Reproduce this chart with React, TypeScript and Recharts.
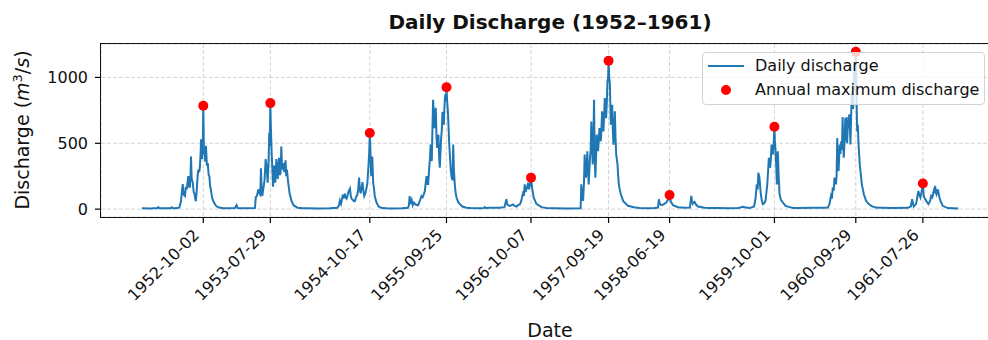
import React from "react";
import {
  ComposedChart,
  Line,
  Scatter,
  XAxis,
  YAxis,
  CartesianGrid,
} from "recharts";

type Pt = [string, number];

// daily discharge (month-day, m3/s)
const q1952: Pt[] = [
  ["01-01", 6], ["02-10", 5], ["03-10", 8], ["03-14", 15], ["03-20", 6], ["05-10", 6], ["05-14", 14], ["05-20", 7],
  ["06-10", 8], ["06-17", 12], ["06-24", 60], ["07-02", 190], ["07-06", 110], ["07-12", 100], ["07-16", 170],
  ["07-20", 150], ["07-24", 210], ["07-27", 250], ["07-31", 170], ["08-03", 170], ["08-06", 260], ["08-08", 400],
  ["08-11", 230], ["08-16", 200], ["08-20", 130], ["08-23", 120], ["08-27", 80], ["08-30", 60], ["09-03", 150],
  ["09-07", 260], ["09-10", 300], ["09-14", 280], ["09-17", 330], ["09-20", 420], ["09-22", 530], ["09-25", 400],
  ["09-27", 380], ["09-30", 520], ["10-02", 785], ["10-05", 420], ["10-08", 440], ["10-11", 360], ["10-14", 480],
  ["10-18", 330], ["10-22", 350], ["10-26", 260], ["10-29", 250], ["11-02", 170], ["11-05", 150], ["11-10", 90],
  ["11-16", 60], ["11-24", 35], ["12-01", 20], ["12-16", 10], ["12-31", 6],
];
const q1953: Pt[] = [
  ["01-14", 6], ["02-20", 8], ["02-28", 30], ["03-05", 8], ["03-15", 6], ["05-21", 8], ["05-25", 93], ["05-30", 100],
  ["06-05", 150], ["06-10", 120], ["06-14", 110], ["06-17", 310], ["06-20", 150], ["06-23", 100], ["06-28", 160],
  ["07-03", 220], ["07-08", 380], ["07-12", 330], ["07-17", 200], ["07-21", 350], ["07-24", 580], ["07-26", 480],
  ["07-29", 805], ["07-31", 640], ["08-04", 420], ["08-07", 300], ["08-10", 170], ["08-15", 330], ["08-20", 200],
  ["08-25", 380], ["08-31", 230], ["09-06", 390], ["09-10", 260], ["09-13", 280], ["09-16", 475], ["09-19", 330],
  ["09-22", 300], ["09-26", 350], ["09-29", 280], ["10-05", 370], ["10-08", 250], ["10-11", 300], ["10-17", 200],
  ["10-23", 120], ["11-01", 60], ["11-10", 30], ["11-28", 10], ["12-20", 6],
];
const q1954: Pt[] = [
  ["01-10", 6], ["03-01", 5], ["04-20", 6], ["05-25", 10], ["06-01", 30], ["06-05", 65], ["06-10", 40], ["06-14", 70],
  ["06-18", 110], ["06-22", 80], ["06-27", 118], ["07-01", 90], ["07-05", 80], ["07-09", 100], ["07-13", 130],
  ["07-20", 156], ["07-24", 100], ["07-27", 80], ["08-02", 70], ["08-07", 60], ["08-11", 60], ["08-16", 90],
  ["08-22", 110], ["08-26", 150], ["08-30", 240], ["09-02", 150], ["09-06", 120], ["09-10", 160], ["09-14", 205],
  ["09-18", 140], ["09-22", 100], ["09-27", 120], ["10-02", 160], ["10-06", 200], ["10-10", 300], ["10-14", 420],
  ["10-17", 578], ["10-20", 420], ["10-23", 250], ["10-26", 300], ["10-28", 400], ["11-01", 200], ["11-05", 150],
  ["11-08", 100], ["11-15", 55], ["11-25", 20], ["12-10", 8], ["12-31", 6],
];
const q1955: Pt[] = [
  ["01-20", 5], ["03-10", 6], ["04-05", 10], ["04-10", 30], ["04-13", 100], ["04-16", 40], ["04-22", 70], ["04-27", 30],
  ["05-02", 50], ["05-10", 35], ["05-21", 30], ["05-28", 60], ["06-05", 100], ["06-10", 90], ["06-15", 110],
  ["06-20", 138], ["06-24", 200], ["06-28", 250], ["07-02", 190], ["07-05", 190], ["07-09", 300], ["07-13", 380],
  ["07-16", 490], ["07-21", 365], ["07-24", 600], ["07-27", 830], ["08-02", 615], ["08-05", 700], ["08-08", 770],
  ["08-11", 560], ["08-14", 465], ["08-20", 565], ["08-23", 400], ["08-26", 315], ["09-01", 540], ["09-04", 600],
  ["09-07", 740], ["09-10", 700], ["09-13", 640], ["09-16", 780], ["09-19", 870], ["09-22", 820], ["09-25", 925],
  ["09-28", 815], ["10-01", 750], ["10-04", 640], ["10-07", 500], ["10-10", 415], ["10-14", 300], ["10-18", 240],
  ["10-22", 220], ["10-25", 490], ["10-28", 300], ["11-01", 190], ["11-05", 120], ["11-09", 88], ["11-16", 55],
  ["11-24", 38], ["12-05", 20], ["12-23", 10],
];
const q1956: Pt[] = [
  ["01-10", 8], ["02-20", 6], ["03-10", 8], ["03-14", 15], ["03-20", 8], ["04-05", 10], ["05-20", 10], ["06-10", 15],
  ["06-19", 75], ["06-22", 40], ["06-26", 30], ["07-05", 25], ["07-12", 30], ["07-19", 35], ["07-25", 25],
  ["08-03", 20], ["08-10", 30], ["08-18", 35], ["08-24", 60], ["09-01", 118], ["09-05", 100], ["09-09", 188],
  ["09-13", 130], ["09-16", 150], ["09-20", 170], ["09-24", 200], ["09-28", 150], ["10-02", 180], ["10-07", 239],
  ["10-10", 190], ["10-13", 150], ["10-19", 88], ["10-31", 40], ["11-23", 15], ["12-15", 8],
];
const q1957: Pt[] = [
  ["01-20", 6], ["03-15", 5], ["05-17", 6], ["05-20", 188], ["05-24", 90], ["05-28", 63], ["06-01", 200], ["06-04", 415],
  ["06-07", 300], ["06-10", 239], ["06-16", 440], ["06-19", 300], ["06-22", 188], ["06-28", 390], ["07-01", 450],
  ["07-04", 666], ["07-07", 500], ["07-10", 340], ["07-13", 500], ["07-16", 830], ["07-19", 400], ["07-22", 239],
  ["07-25", 400], ["07-28", 566], ["07-31", 480], ["08-03", 440], ["08-06", 520], ["08-09", 616], ["08-12", 560],
  ["08-15", 515], ["08-18", 600], ["08-21", 742], ["08-24", 650], ["08-27", 590], ["08-30", 700], ["09-02", 843],
  ["09-05", 760], ["09-08", 691], ["09-11", 800], ["09-14", 968], ["09-17", 1000], ["09-19", 1126], ["09-22", 1000],
  ["09-25", 943], ["09-29", 641], ["10-02", 700], ["10-05", 792], ["10-08", 600], ["10-11", 490], ["10-14", 600],
  ["10-17", 742], ["10-20", 550], ["10-23", 415], ["10-26", 380], ["10-29", 340], ["11-01", 250], ["11-04", 188],
  ["11-08", 150], ["11-13", 113], ["11-23", 63], ["12-15", 25],
];
const q1958: Pt[] = [
  ["01-10", 15], ["02-05", 8], ["03-10", 6], ["04-13", 8], ["04-28", 12], ["05-02", 75], ["05-06", 40], ["05-13", 30],
  ["05-22", 35], ["06-04", 50], ["06-12", 70], ["06-19", 108], ["06-24", 60], ["07-04", 30], ["07-26", 15],
  ["08-25", 10], ["09-18", 12], ["09-24", 100], ["09-27", 60], ["10-01", 40], ["10-05", 50], ["10-09", 55],
  ["10-15", 35], ["10-24", 20], ["11-23", 10], ["12-20", 8],
];
const q1959: Pt[] = [
  ["01-20", 8], ["03-10", 7], ["04-20", 8], ["04-28", 10], ["05-10", 18], ["05-20", 15], ["06-12", 8], ["07-02", 20],
  ["07-09", 88], ["07-14", 188], ["07-18", 150], ["07-21", 276], ["07-26", 239], ["08-01", 113], ["08-06", 60],
  ["08-10", 38], ["08-16", 45], ["08-22", 63], ["08-30", 188], ["09-03", 300], ["09-06", 390], ["09-09", 350],
  ["09-12", 314], ["09-15", 380], ["09-18", 490], ["09-21", 430], ["09-24", 415], ["09-27", 480], ["10-01", 626],
  ["10-03", 520], ["10-06", 440], ["10-09", 330], ["10-12", 188], ["10-16", 440], ["10-20", 250], ["10-24", 113],
  ["10-30", 70], ["11-08", 50], ["11-20", 25], ["12-08", 15], ["12-25", 8],
];
const q1960: Pt[] = [
  ["01-15", 8], ["03-28", 10], ["05-15", 10], ["05-27", 12], ["06-03", 38], ["06-10", 100], ["06-14", 80],
  ["06-18", 163], ["06-22", 140], ["06-26", 239], ["07-02", 188], ["07-05", 250], ["07-08", 540], ["07-11", 320],
  ["07-14", 289], ["07-19", 490], ["07-22", 420], ["07-26", 515], ["07-29", 450], ["08-01", 700], ["08-04", 500],
  ["08-06", 390], ["08-10", 520], ["08-13", 691], ["08-16", 520], ["08-19", 700], ["08-21", 500], ["08-24", 616],
  ["08-27", 650], ["08-31", 720], ["09-03", 600], ["09-05", 490], ["09-08", 700], ["09-11", 880], ["09-14", 820],
  ["09-17", 760], ["09-21", 1050], ["09-25", 900], ["09-29", 1194], ["10-02", 880], ["10-05", 590], ["10-08", 641],
  ["10-11", 500], ["10-14", 415], ["10-17", 330], ["10-20", 289], ["10-26", 188], ["11-04", 113], ["11-14", 63],
  ["11-25", 40], ["12-07", 25], ["12-25", 12],
];
const q1961: Pt[] = [
  ["01-21", 10], ["03-15", 8], ["05-20", 10], ["06-02", 20], ["06-08", 75], ["06-15", 20], ["06-26", 40], ["07-01", 90],
  ["07-06", 138], ["07-10", 110], ["07-15", 88], ["07-20", 130], ["07-26", 194], ["07-30", 100], ["08-04", 80],
  ["08-10", 63], ["08-20", 38], ["08-27", 60], ["09-01", 100], ["09-06", 90], ["09-13", 138], ["09-16", 120],
  ["09-19", 176], ["09-22", 130], ["09-25", 113], ["10-01", 150], ["10-04", 125], ["10-08", 90], ["10-13", 63],
  ["10-23", 25], ["11-14", 8], ["12-31", 5],
];

const years = [1952, 1953, 1954, 1955, 1956, 1957, 1958, 1959, 1960, 1961];
const yearly = [q1952, q1953, q1954, q1955, q1956, q1957, q1958, q1959, q1960, q1961];

// annual maxima (also used as x ticks)
const maxDates = [
  "1952-10-02", "1953-07-29", "1954-10-17", "1955-09-25", "1956-10-07",
  "1957-09-19", "1958-06-19", "1959-10-01", "1960-09-29", "1961-07-26",
];
const maxValues = [785, 805, 578, 925, 239, 1126, 108, 626, 1194, 194];

const yTicks = [0, 500, 1000];

const DAY = 86400000;
const EPOCH = Date.UTC(1952, 0, 1);
const toDay = (s: string) => {
  const [y, m, d] = s.split("-").map(Number);
  return (Date.UTC(y, m - 1, d) - EPOCH) / DAY;
};

const daily = yearly.flatMap((rows, i) =>
  rows.map(([md, v]) => ({ t: toDay(`${years[i]}-${md}`), v }))
);
const maxima = maxDates.map((d, i) => ({ t: toDay(d), v: maxValues[i] }));
const xTicks = maxima.map((m) => m.t);

// matplotlib-like 5% margins
const tMin = toDay("1952-01-01");
const tMax = toDay("1961-12-31");
const tPad = (tMax - tMin) * 0.05;
const vMax = Math.max(...maxValues);
const vPad = vMax * 0.05;

const FONT = "'DejaVu Sans', sans-serif";
const BLUE = "#1f77b4";

function DateTick(props: any) {
  const { x, y, payload } = props;
  const idx = xTicks.indexOf(payload.value);
  const tx = x - 3;
  const ty = y + 13;
  return (
    <text
      x={tx}
      y={ty}
      transform={`rotate(-45, ${tx}, ${ty})`}
      textAnchor="end"
      fontSize={16}
      fontFamily={FONT}
      fill="#111"
    >
      {idx >= 0 ? maxDates[idx] : ""}
    </text>
  );
}

export default function App() {
  return (
    <div
      style={{
        position: "fixed",
        left: 0,
        top: 0,
        width: 988,
        height: 340,
        overflow: "hidden",
        background: "#fff",
        fontFamily: FONT,
        color: "#111",
      }}
    >
      <ComposedChart
        width={1010}
        height={340}
        margin={{ top: 44, right: 11, bottom: 0, left: 0 }}
      >
        <CartesianGrid stroke="#c9c9c9" strokeDasharray="4 2" strokeWidth={0.8} />
        <XAxis
          type="number"
          dataKey="t"
          domain={[tMin - tPad, tMax + tPad]}
          ticks={xTicks}
          allowDataOverflow
          height={123}
          axisLine={false}
          tickSize={6}
          tickMargin={0}
          tickLine={{ stroke: "#000", strokeWidth: 1.2 }}
          tick={<DateTick />}
          interval={0}
        />
        <YAxis
          type="number"
          domain={[-vPad, vMax + vPad]}
          ticks={yTicks}
          allowDataOverflow
          width={101}
          axisLine={false}
          tickSize={6}
          tickMargin={7}
          tickLine={{ stroke: "#000", strokeWidth: 1.2 }}
          tick={{ fontSize: 16, fontFamily: FONT, fill: "#111" }}
        />
        <Line
          data={daily}
          dataKey="v"
          type="linear"
          stroke={BLUE}
          strokeWidth={2}
          dot={false}
          isAnimationActive={false}
        />
        <Scatter
          data={maxima}
          dataKey="v"
          isAnimationActive={false}
          shape={(p: any) => <circle cx={p.cx} cy={p.cy} r={5} fill="#ff0000" />}
        />
      </ComposedChart>

      {/* plot frame */}
      <div
        style={{
          position: "absolute",
          left: 100,
          top: 43,
          width: 900,
          height: 175,
          border: "1.3px solid #111",
          boxSizing: "border-box",
          pointerEvents: "none",
        }}
      />

      {/* title */}
      <div
        style={{
          position: "absolute",
          left: 101,
          width: 898,
          top: 9,
          lineHeight: "26px",
          textAlign: "center",
          fontSize: 20,
          fontWeight: "bold",
        }}
      >
        Daily Discharge (1952–1961)
      </div>

      {/* y label */}
      <div
        style={{
          position: "absolute",
          left: 22 - 110,
          top: 130 - 13,
          width: 220,
          height: 26,
          lineHeight: "26px",
          textAlign: "center",
          fontSize: 19,
          transform: "rotate(-90deg)",
          whiteSpace: "nowrap",
        }}
      >
        Discharge (<i>m</i>
        <sup style={{ fontSize: 13, lineHeight: 0 }}>3</sup>/<i>s</i>)
      </div>

      {/* x label */}
      <div
        style={{
          position: "absolute",
          left: 101,
          width: 898,
          top: 317,
          lineHeight: "26px",
          textAlign: "center",
          fontSize: 19,
        }}
      >
        Date
      </div>

      {/* legend */}
      <div
        style={{
          position: "absolute",
          left: 702,
          top: 52,
          width: 283,
          height: 53,
          border: "1px solid #d3d3d3",
          borderRadius: 4,
          background: "rgba(255,255,255,0.8)",
          boxSizing: "border-box",
          fontSize: 16,
        }}
      >
        <div
          style={{
            position: "absolute",
            left: 5,
            top: 12,
            width: 36,
            height: 2,
            background: BLUE,
          }}
        />
        <div style={{ position: "absolute", left: 52, top: 1, lineHeight: "24px" }}>
          Daily discharge
        </div>
        <div
          style={{
            position: "absolute",
            left: 18,
            top: 32,
            width: 10,
            height: 10,
            borderRadius: "50%",
            background: "#ff0000",
          }}
        />
        <div style={{ position: "absolute", left: 52, top: 25, lineHeight: "24px" }}>
          Annual maximum discharge
        </div>
      </div>
    </div>
  );
}
